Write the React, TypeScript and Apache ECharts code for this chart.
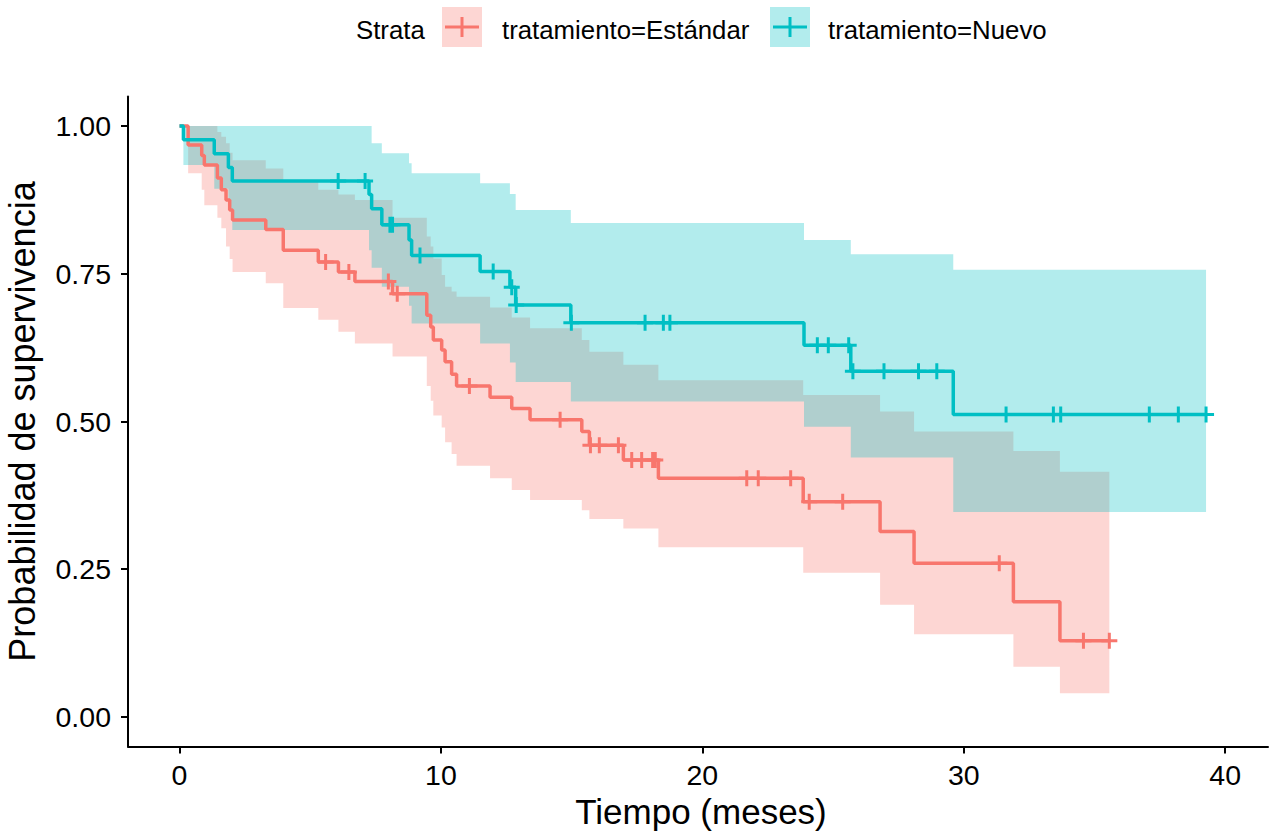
import React, { useEffect, useRef } from "react";
import * as echarts from "echarts";

const xTicks = [0, 10, 20, 30, 40];
const yTicks = [0, 0.25, 0.5, 0.75, 1];

// Estándar
const estTimes = [0, 0.33, 0.85, 0.95, 1.45, 1.6, 1.78, 1.92, 2.03, 3.3, 3.97, 5.31, 6.08, 6.71, 8.15, 9.46, 9.61, 9.71, 10.03, 10.16, 10.41, 10.6, 11.88, 12.71, 13.41, 15.39, 15.68, 16.98, 18.32, 23.86, 26.8, 28.1, 31.9, 33.68];
const estSurv = [1, 0.968, 0.95, 0.934, 0.912, 0.892, 0.875, 0.858, 0.841, 0.825, 0.79, 0.77, 0.753, 0.737, 0.716, 0.68, 0.66, 0.638, 0.621, 0.601, 0.58, 0.56, 0.541, 0.522, 0.503, 0.483, 0.46, 0.435, 0.404, 0.364, 0.314, 0.26, 0.195, 0.129];
const estLower = [1, 0.92, 0.892, 0.866, 0.845, 0.827, 0.796, 0.775, 0.753, 0.734, 0.692, 0.672, 0.652, 0.632, 0.61, 0.56, 0.535, 0.51, 0.49, 0.465, 0.445, 0.425, 0.404, 0.384, 0.367, 0.35, 0.335, 0.319, 0.287, 0.244, 0.19, 0.14, 0.085, 0.04];
const estUpper = [1, 1, 1, 1, 0.99, 0.982, 0.971, 0.955, 0.942, 0.928, 0.906, 0.892, 0.884, 0.875, 0.845, 0.813, 0.796, 0.776, 0.748, 0.728, 0.72, 0.711, 0.693, 0.676, 0.658, 0.638, 0.618, 0.596, 0.57, 0.545, 0.517, 0.483, 0.45, 0.415];
const estEnd = 35.57;
const estCensor = [5.59, 6.48, 7.99, 8.33, 11.09, 14.56, 15.72, 16.06, 16.79, 17.3, 17.68, 18.1, 18.2, 21.7, 22.14, 23.38, 24.09, 25.37, 31.36, 34.58, 35.57];

// Nuevo
const nuevoTimes = [0, 0.15, 1.33, 1.87, 2.02, 7.25, 7.35, 7.74, 8.78, 8.88, 11.5, 12.64, 12.86, 14.97, 23.89, 25.68, 29.6];
const nuevoSurv = [1, 0.977, 0.953, 0.93, 0.907, 0.884, 0.86, 0.833, 0.807, 0.781, 0.754, 0.727, 0.697, 0.667, 0.629, 0.585, 0.512];
const nuevoUpper = [1, 1, 1, 1, 1, 1, 0.971, 0.954, 0.937, 0.92, 0.903, 0.885, 0.858, 0.836, 0.807, 0.783, 0.757];
const nuevoLower = [1, 0.934, 0.894, 0.86, 0.824, 0.79, 0.76, 0.728, 0.696, 0.666, 0.632, 0.6, 0.567, 0.534, 0.491, 0.439, 0.347];
const nuevoEnd = 39.27;
const nuevoCensor = [6.07, 7.1, 8.05, 8.15, 9.2, 12.0, 12.71, 12.88, 14.99, 17.81, 18.51, 18.76, 24.4, 24.82, 25.6, 25.76, 26.95, 28.27, 28.97, 31.62, 33.43, 33.71, 37.1, 38.21, 39.27];

const RED = "#F8766D";
const TEAL = "#00BFC4";
const RED_FILL = "rgba(248,118,109,0.3)";
const TEAL_FILL = "rgba(0,191,196,0.3)";
const FONT = '"Liberation Sans", Arial, sans-serif';

const PLUS = "path://M6.5,0H9.5V6.5H16V9.5H9.5V16H6.5V9.5H0V6.5H6.5Z";

function survAt(times: number[], surv: number[], t: number) {
  let v = surv[0];
  for (let i = 0; i < times.length; i++) if (times[i] <= t) v = surv[i];
  return v;
}

function stepLine(times: number[], surv: number[], end: number) {
  const d = times.map((t, i) => [t, surv[i]]);
  d.push([end, surv[surv.length - 1]]);
  return d;
}

function ribbonPoints(times: number[], lo: number[], hi: number[], end: number, api: any) {
  const pts: number[][] = [];
  for (let i = 0; i < times.length; i++) {
    const t1 = i + 1 < times.length ? times[i + 1] : end;
    pts.push(api.coord([times[i], hi[i]]), api.coord([t1, hi[i]]));
  }
  for (let i = times.length - 1; i >= 0; i--) {
    const t1 = i + 1 < times.length ? times[i + 1] : end;
    pts.push(api.coord([t1, lo[i]]), api.coord([times[i], lo[i]]));
  }
  return pts;
}

export default function App() {
  const ref = useRef<HTMLDivElement>(null);
  useEffect(() => {
    const chart = echarts.init(ref.current!, null, { renderer: "svg" });
    const option: any = {
      animation: false,
      backgroundColor: "#ffffff",
      grid: { left: 128, top: 96.5, width: 1140, height: 650 },
      xAxis: {
        type: "value",
        min: -1.97,
        max: 41.64,
        splitLine: { show: false },
        axisLine: { show: true, onZero: false, lineStyle: { color: "#000", width: 2 } },
        axisTick: { show: true, length: 7, lineStyle: { color: "#000", width: 2 }, customValues: xTicks },
        axisLabel: { customValues: xTicks, color: "#000", fontSize: 28.5, fontFamily: FONT, margin: 14 },
      },
      yAxis: {
        type: "value",
        min: -0.05,
        max: 1.05,
        splitLine: { show: false },
        axisLine: { show: true, onZero: false, lineStyle: { color: "#000", width: 2 } },
        axisTick: { show: true, length: 7, lineStyle: { color: "#000", width: 2 }, customValues: yTicks },
        axisLabel: {
          customValues: yTicks,
          color: "#000",
          fontSize: 28.5,
          fontFamily: FONT,
          margin: 17,
          formatter: (v: number) => v.toFixed(2),
        },
      },
      series: [
        {
          type: "line",
          step: "end",
          data: stepLine(estTimes, estSurv, estEnd),
          symbol: "none",
          lineStyle: { color: RED, width: 3.5 },
          z: 2,
          silent: true,
        },
        {
          type: "line",
          step: "end",
          data: stepLine(nuevoTimes, nuevoSurv, nuevoEnd),
          symbol: "none",
          lineStyle: { color: TEAL, width: 3.5 },
          z: 2,
          silent: true,
        },
        {
          type: "scatter",
          data: estCensor.map((t) => [t, survAt(estTimes, estSurv, t)]),
          symbol: PLUS,
          symbolSize: 16,
          itemStyle: { color: RED, opacity: 1 },
          z: 2,
          silent: true,
        },
        {
          type: "scatter",
          data: nuevoCensor.map((t) => [t, survAt(nuevoTimes, nuevoSurv, t)]),
          symbol: PLUS,
          symbolSize: 16,
          itemStyle: { color: TEAL, opacity: 1 },
          z: 2,
          silent: true,
        },
        {
          type: "custom",
          coordinateSystem: "cartesian2d",
          data: [[0, 1]],
          z: 2,
          silent: true,
          renderItem: (_p: any, api: any) => ({
            type: "polygon",
            shape: { points: ribbonPoints(estTimes, estLower, estUpper, estEnd, api) },
            style: { fill: RED_FILL },
          }),
        },
        {
          type: "custom",
          coordinateSystem: "cartesian2d",
          data: [[0, 1]],
          z: 2,
          silent: true,
          renderItem: (_p: any, api: any) => ({
            type: "polygon",
            shape: { points: ribbonPoints(nuevoTimes, nuevoLower, nuevoUpper, nuevoEnd, api) },
            style: { fill: TEAL_FILL },
          }),
        },
      ],
      graphic: [
        { type: "text", x: 356, y: 30, style: { text: "Strata", font: `25.8px ${FONT}`, fill: "#000", verticalAlign: "middle", align: "left" } },
        { type: "rect", shape: { x: 442, y: 7, width: 40, height: 40 }, style: { fill: RED_FILL } },
        { type: "line", shape: { x1: 445, y1: 27, x2: 479, y2: 27 }, style: { stroke: RED, lineWidth: 3 } },
        { type: "line", shape: { x1: 462, y1: 17, x2: 462, y2: 37 }, style: { stroke: RED, lineWidth: 3 } },
        { type: "text", x: 502, y: 30, style: { text: "tratamiento=Estándar", font: `25.8px ${FONT}`, fill: "#000", verticalAlign: "middle", align: "left" } },
        { type: "rect", shape: { x: 770, y: 7, width: 40, height: 40 }, style: { fill: TEAL_FILL } },
        { type: "line", shape: { x1: 773, y1: 27, x2: 807, y2: 27 }, style: { stroke: TEAL, lineWidth: 3 } },
        { type: "line", shape: { x1: 790, y1: 17, x2: 790, y2: 37 }, style: { stroke: TEAL, lineWidth: 3 } },
        { type: "text", x: 828, y: 30, style: { text: "tratamiento=Nuevo", font: `25.8px ${FONT}`, fill: "#000", verticalAlign: "middle", align: "left" } },
        { type: "text", x: 701, y: 811, style: { text: "Tiempo (meses)", font: `35px ${FONT}`, fill: "#000", verticalAlign: "middle", align: "center" } },
        { type: "text", x: 22, y: 421.5, rotation: Math.PI / 2, style: { text: "Probabilidad de supervivencia", font: `36px ${FONT}`, fill: "#000", verticalAlign: "middle", align: "center" } },
      ],
    };
    chart.setOption(option);
    return () => chart.dispose();
  }, []);
  return <div ref={ref} style={{ position: "absolute", left: 0, top: 0, width: 1274, height: 832 }} />;
}
